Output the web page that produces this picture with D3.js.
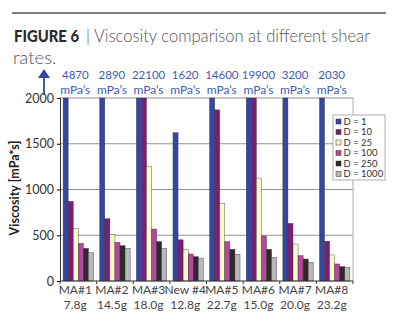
<!DOCTYPE html>
<html><head><meta charset="utf-8">
<script src="https://cdn.jsdelivr.net/npm/d3@7"></script>
<style>
html,body{margin:0;padding:0;background:#fff;}
svg{display:block;font-family:Lato,"Open Sans",sans-serif;}
</style></head>
<body><svg id="c" width="400" height="323"></svg>
<script>
const categories = ["MA#1","MA#2","MA#3","New #4","MA#5","MA#6","MA#7","MA#8"];
const weights = ["7.8g","14.5g","18.0g","12.8g","22.7g","15.0g","20.0g","23.2g"];
const topLabels = ["4870","2890","22100","1620","14600","19900","3200","2030"];
const seriesNames = ["D = 1","D = 10","D = 25","D = 100","D = 250","D = 1000"];
const d1    = [4870, 2890, 22100, 1620, 14600, 19900, 3200, 2030];
const d10   = [870, 680, 2100, 450, 1870, 2100, 630, 435];
const d25   = [575, 510, 1255, 346, 845, 1125, 404, 285];
const d100  = [412, 423, 568, 295, 430, 492, 277, 186];
const d250  = [357, 386, 430, 266, 346, 346, 240, 157];
const d1000 = [310, 357, 357, 250, 292, 259, 204, 150];
const yTicks = [0, 500, 1000, 1500, 2000];
const colors = ["#3547a3","#7b1f72","#fdfbcc","#b6479f","#2b2b2b","#b9b9b9"];

const series = [d1,d10,d25,d100,d250,d1000];
const svg = d3.select("#c");

// top rule
svg.append("line").attr("x1",12).attr("x2",386).attr("y1",13).attr("y2",13)
  .attr("stroke","#555").attr("stroke-width",1.5);

// title
svg.append("text").attr("x",14).attr("y",42).attr("font-size",16.5).attr("fill","#2a2a2a")
  .attr("font-weight","900").attr("textLength",65).attr("lengthAdjust","spacingAndGlyphs")
  .text("FIGURE 6");
svg.append("text").attr("x",86).attr("y",42).attr("font-size",18).attr("fill","#555")
  .attr("font-weight","300").attr("textLength",284).attr("lengthAdjust","spacingAndGlyphs")
  .text("| Viscosity comparison at different shear");
svg.append("text").attr("x",13).attr("y",64).attr("font-size",18.5).attr("fill","#555")
  .attr("font-weight","300").text("rates.");

const x0 = 60, x1 = 353, yTop = 98, yBot = 281;
const x = d3.scaleBand().domain(categories).range([x0,x1]).paddingInner(0.17).paddingOuter(0.085);
const xs = d3.scaleBand().domain(d3.range(6)).range([0, x.bandwidth()]);
const y = d3.scaleLinear().domain([0,2000]).range([yBot,yTop]);

// gridlines
svg.append("g").selectAll("line").data(yTicks.filter(d=>d>0)).join("line")
  .attr("x1",x0).attr("x2",x1).attr("y1",d=>y(d)).attr("y2",d=>y(d))
  .attr("stroke","#777").attr("stroke-width",0.8);
// right border
svg.append("line").attr("x1",x1).attr("x2",x1).attr("y1",yTop).attr("y2",yBot).attr("stroke","#999").attr("stroke-width",0.8);

// bars
const g = svg.append("g");
series.forEach((s,si)=>{
  g.selectAll(null).data(categories).join("rect")
    .attr("x",(c)=>x(c)+xs(si))
    .attr("width",xs.bandwidth())
    .attr("y",(c,i)=>y(Math.min(s[i],2000)))
    .attr("height",(c,i)=>yBot-y(Math.min(s[i],2000)))
    .attr("fill",colors[si]).attr("stroke","#333").attr("stroke-width",0.4);
});

// y axis
const ya = svg.append("g").attr("transform",`translate(${x0},0)`)
  .call(d3.axisLeft(y).tickValues(yTicks).tickFormat(d3.format("d")).tickSize(3).tickPadding(3));
ya.select(".domain").attr("stroke","#333");
ya.selectAll("text").attr("font-size",12.5).attr("fill","#333").attr("font-family","Lato,sans-serif");

// x axis
svg.append("line").attr("x1",x0).attr("x2",x1).attr("y1",yBot).attr("y2",yBot).attr("stroke","#333");
svg.append("g").selectAll("line").data(d3.range(9)).join("line")
  .attr("x1",i=>x0+i*(x1-x0)/8).attr("x2",i=>x0+i*(x1-x0)/8)
  .attr("y1",yBot).attr("y2",yBot+3).attr("stroke","#333");

const xl = svg.append("g");
categories.forEach((c,i)=>{
  const cx = x(c)+x.bandwidth()/2 - 3;
  xl.append("text").attr("x",cx).attr("y",294).attr("text-anchor","middle")
    .attr("font-size",12).attr("fill","#444").text(c);
  xl.append("text").attr("x",cx).attr("y",309).attr("text-anchor","middle")
    .attr("font-size",12).attr("fill","#444").text(weights[i]);
  xl.append("text").attr("x",cx).attr("y",79).attr("text-anchor","middle")
    .attr("font-size",11.5).attr("fill","#3d5bb5").text(topLabels[i]);
  xl.append("text").attr("x",cx).attr("y",94).attr("text-anchor","middle")
    .attr("font-size",12).attr("fill","#3d5bb5").text("mPa’s");
});

// arrow
svg.append("line").attr("x1",44).attr("x2",44).attr("y1",76).attr("y2",95).attr("stroke","#2f4aa0").attr("stroke-width",1.8);
svg.append("path").attr("d","M38,78 L44,69 L50,78 Z").attr("fill","#2f4aa0");

// y label
svg.append("text").attr("transform","translate(19,188) rotate(-90)").attr("text-anchor","middle")
  .attr("font-size",12.5).attr("font-weight","bold").attr("fill","#222").text("Viscosity [mPa*s]");

// legend
const lg = svg.append("g").attr("transform","translate(333,115)");
lg.append("rect").attr("width",52).attr("height",65).attr("fill","#fff").attr("stroke","#999").attr("stroke-width",0.8);
seriesNames.forEach((n,i)=>{
  lg.append("rect").attr("x",3).attr("y",4+i*10.5).attr("width",5).attr("height",5)
    .attr("fill",colors[i]).attr("stroke","#333").attr("stroke-width",0.5);
  lg.append("text").attr("x",10.5).attr("y",9.8+i*10.5).attr("font-size",9.5).attr("fill","#333").text(n);
});
</script></body></html>
